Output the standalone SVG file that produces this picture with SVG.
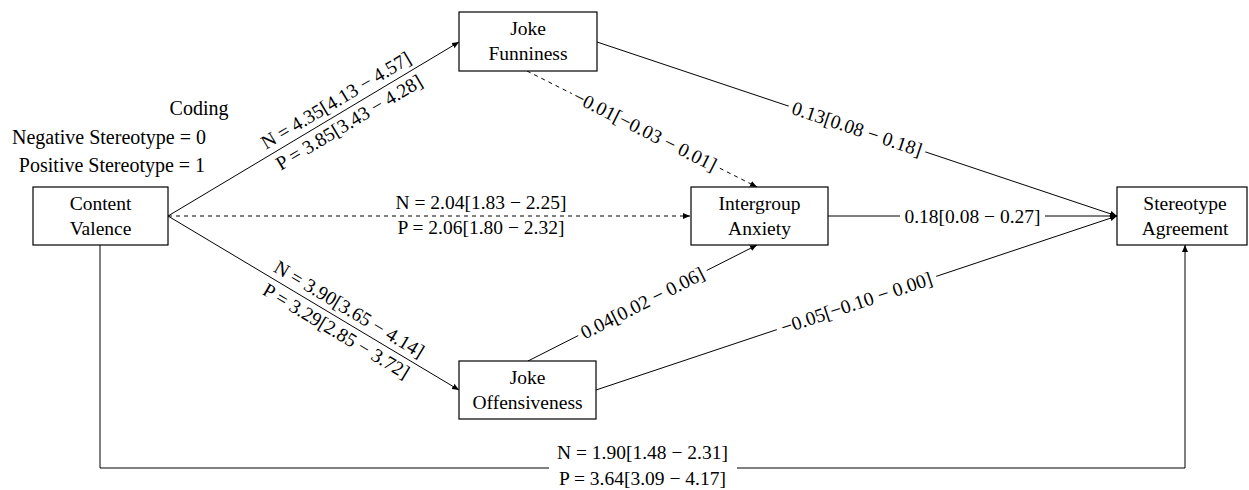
<svg xmlns="http://www.w3.org/2000/svg" width="1249" height="490" viewBox="0 0 1249 490">
<style>
text{font-family:"Liberation Serif","Times New Roman",serif;font-size:19.5px;fill:#000;text-anchor:middle}
.big{font-size:20px}
.box{fill:#fff;stroke:#000;stroke-width:1.2}
.ln{fill:none;stroke:#000;stroke-width:1}
.dash{stroke-dasharray:4 4}
.bg{fill:#fff;stroke:none}
</style>
<defs>
<marker id="arr" markerUnits="userSpaceOnUse" markerWidth="8" markerHeight="6" refX="7" refY="3" orient="auto">
<path d="M0,0 L7,3 L0,6 Z" fill="#000"/>
</marker>
</defs>
<rect width="1249" height="490" fill="#fff"/>

<g id="connectors">
<line class="ln" x1="168" y1="216" x2="459" y2="42" marker-end="url(#arr)"/>
<line class="ln dash" x1="168" y1="216" x2="690" y2="216" marker-end="url(#arr)"/>
<line class="ln" x1="168" y1="216" x2="459" y2="390" marker-end="url(#arr)"/>
<line class="ln dash" x1="527" y1="71" x2="757" y2="187" marker-end="url(#arr)"/>
<line class="ln" x1="597" y1="42" x2="1117" y2="216" marker-end="url(#arr)"/>
<line class="ln" x1="828" y1="216" x2="1117" y2="216" marker-end="url(#arr)"/>
<line class="ln" x1="528" y1="361" x2="757" y2="245" marker-end="url(#arr)"/>
<line class="ln" x1="596" y1="390" x2="1117" y2="216" marker-end="url(#arr)"/>
<path class="ln" d="M100,245 V468 H1185 V245" marker-end="url(#arr)"/>

<!-- CV -> JF labels -->
<g transform="translate(342.6,111.6) rotate(-30.87)">
<text x="0" y="-6.5">N = 4.35[4.13 − 4.57]</text>
<text x="0" y="19">P = 3.85[3.43 − 4.28]</text>
</g>
<!-- CV -> JO labels -->
<g transform="translate(342.6,320.4) rotate(30.87)">
<text x="0" y="-6.5">N = 3.90[3.65 − 4.14]</text>
<text x="0" y="19">P = 3.29[2.85 − 3.72]</text>
</g>
<!-- CV -> IA labels -->
<text x="481" y="209">N = 2.04[1.83 − 2.25]</text>
<text x="481" y="234">P = 2.06[1.80 − 2.32]</text>
<!-- JF -> IA -->
<g transform="translate(645,130.5) rotate(26.76)">
<rect class="bg" x="-82" y="-11" width="164" height="22"/>
<text x="0" y="6.5">−0.01[−0.03 − 0.01]</text>
</g>
<!-- JF -> SA -->
<g transform="translate(857,129) rotate(18.5)">
<rect class="bg" x="-72" y="-11" width="144" height="22"/>
<text x="0" y="6.5">0.13[0.08 − 0.18]</text>
</g>
<!-- IA -> SA -->
<rect class="bg" x="900" y="205" width="145" height="22"/>
<text x="972.5" y="222.5">0.18[0.08 − 0.27]</text>
<!-- JO -> IA -->
<g transform="translate(642.5,303) rotate(-26.87)">
<rect class="bg" x="-72" y="-11" width="144" height="22"/>
<text x="0" y="6.5">0.04[0.02 − 0.06]</text>
</g>
<!-- JO -> SA -->
<g transform="translate(856.5,303) rotate(-18.47)">
<rect class="bg" x="-84" y="-11" width="168" height="22"/>
<text x="0" y="6.5">−0.05[−0.10 − 0.00]</text>
</g>
<!-- CV -> SA bottom -->
<rect class="bg" x="549" y="440" width="188" height="50"/>
<text x="642.5" y="458.5">N = 1.90[1.48 − 2.31]</text>
<text x="642.5" y="484.5">P = 3.64[3.09 − 4.17]</text>
</g>

<g id="coding">
<text class="big" x="199" y="115">Coding</text>
<text class="big" x="109" y="144">Negative Stereotype = 0</text>
<text class="big" x="112" y="172">Positive Stereotype = 1</text>
</g>

<g id="content-valence">
<rect class="box" x="33" y="187" width="135" height="58"/>
<text x="100.5" y="210">Content</text>
<text x="100.5" y="235">Valence</text>
</g>
<g id="joke-funniness">
<rect class="box" x="459" y="12" width="138" height="59"/>
<text x="528" y="35">Joke</text>
<text x="528" y="60">Funniness</text>
</g>
<g id="intergroup-anxiety">
<rect class="box" x="691" y="187" width="137" height="58"/>
<text x="759.5" y="210">Intergroup</text>
<text x="759.5" y="235">Anxiety</text>
</g>
<g id="joke-offensiveness">
<rect class="box" x="459" y="361" width="137" height="58"/>
<text x="527.5" y="384">Joke</text>
<text x="527.5" y="409">Offensiveness</text>
</g>
<g id="stereotype-agreement">
<rect class="box" x="1117" y="187" width="130" height="58"/>
<text x="1185" y="210">Stereotype</text>
<text x="1185" y="235">Agreement</text>
</g>
</svg>
